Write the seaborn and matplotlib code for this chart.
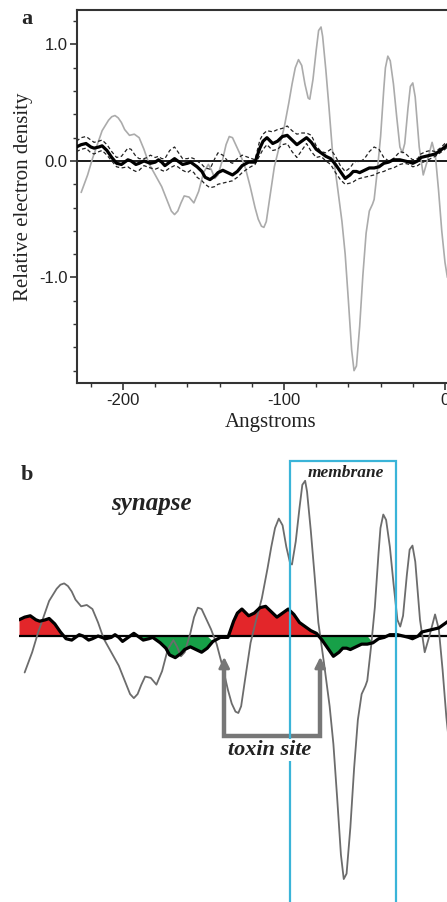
import matplotlib
matplotlib.use("Agg")
import numpy as np
import matplotlib.pyplot as plt
import seaborn as sns
from matplotlib.ticker import MultipleLocator, FixedLocator
from matplotlib.patches import Rectangle

# single scan profile (grey trace)
gray_x = [-226, -222, -219, -216, -213, -209, -207, -205, -203, -201, -199, -196,
          -193, -190, -187, -184, -180, -176, -172, -170, -168, -166, -164, -162,
          -159, -156, -153, -150, -147, -145, -143, -141, -138, -136, -134, -132,
          -130, -127, -124, -121, -118, -116, -114, -112.5, -111, -109, -106, -103,
          -100, -97, -95, -93, -91, -89, -87, -85, -84, -82, -80, -78.5, -77, -76,
          -74, -72, -70, -67, -64, -62, -60, -58, -56.5, -55, -53, -51, -49, -47,
          -45, -44, -42, -40, -38, -37, -35.5, -34, -32, -30, -28, -26.5, -25, -23,
          -21.5, -20, -18.5, -16, -13.5, -11, -8, -6, -4, -2, 0, 1.5]
gray_y = [-0.27, -0.12, 0.02, 0.14, 0.26, 0.35, 0.38, 0.39, 0.37, 0.33, 0.27, 0.22,
          0.23, 0.20, 0.10, -0.02, -0.12, -0.22, -0.36, -0.43, -0.46, -0.43, -0.36,
          -0.30, -0.31, -0.36, -0.26, -0.10, -0.03, -0.08, -0.15, -0.12, 0.02, 0.14,
          0.21, 0.20, 0.14, 0.05, -0.06, -0.22, -0.40, -0.50, -0.56, -0.57, -0.52,
          -0.33, -0.05, 0.12, 0.28, 0.50, 0.66, 0.80, 0.87, 0.82, 0.66, 0.54, 0.53,
          0.70, 0.95, 1.12, 1.15, 1.07, 0.78, 0.45, 0.10, -0.20, -0.52, -0.80, -1.20,
          -1.62, -1.80, -1.76, -1.42, -0.98, -0.62, -0.43, -0.37, -0.33, -0.08, 0.21,
          0.62, 0.80, 0.90, 0.86, 0.66, 0.38, 0.12, 0.07, 0.15, 0.45, 0.64, 0.67,
          0.55, 0.12, -0.12, 0.00, 0.16, 0.05, -0.25, -0.60, -0.87, -1.00]

# averaged profile with upper / lower error traces
mean_x = [-229, -226, -223, -220, -218, -215, -213, -210, -207, -204, -201, -197,
          -195, -192, -190, -187, -185, -183, -180, -178, -176, -174, -171, -168,
          -166, -163, -160, -158, -156, -154, -151, -149, -146, -143, -141, -138,
          -135, -132, -129, -126, -122, -118, -115, -113, -110.6, -107, -104, -101,
          -98, -95, -92, -89, -86, -83, -80, -77, -74, -71, -68, -65, -62, -59, -57,
          -55, -53, -50, -47, -44, -41, -38, -35, -32, -28, -25, -22, -20, -17, -15,
          -12, -9, -6, -3, 0, 1.5]
mean_y = [0.12, 0.14, 0.15, 0.12, 0.11, 0.12, 0.13, 0.09, 0.03, -0.02, -0.03, 0.01,
          0.00, -0.03, -0.02, 0.00, -0.01, -0.02, -0.01, 0.01, -0.01, -0.04, -0.01,
          0.02, 0.00, -0.03, -0.02, -0.01, -0.03, -0.05, -0.09, -0.14, -0.16, -0.13,
          -0.10, -0.08, -0.10, -0.12, -0.09, -0.04, -0.01, -0.01, 0.11, 0.17, 0.20,
          0.15, 0.17, 0.21, 0.22, 0.18, 0.14, 0.17, 0.20, 0.16, 0.10, 0.07, 0.04,
          0.02, -0.03, -0.09, -0.15, -0.12, -0.09, -0.09, -0.10, -0.08, -0.06, -0.06,
          -0.05, -0.02, -0.01, 0.01, 0.01, 0.00, -0.01, -0.02, 0.00, 0.03, 0.04,
          0.05, 0.06, 0.09, 0.12, 0.14]
upper_y = [0.17, 0.20, 0.21, 0.18, 0.16, 0.17, 0.18, 0.14, 0.08, 0.03, 0.04, 0.11,
           0.10, 0.04, 0.02, 0.02, 0.03, 0.05, 0.03, 0.04, 0.02, 0.02, 0.09, 0.12,
           0.08, 0.02, 0.02, 0.03, 0.02, 0.00, -0.03, -0.06, -0.07, 0.02, 0.07, 0.05,
           0.00, -0.02, 0.02, 0.05, 0.03, 0.01, 0.18, 0.23, 0.26, 0.25, 0.27, 0.28,
           0.30, 0.26, 0.23, 0.24, 0.24, 0.22, 0.13, 0.08, 0.07, 0.10, 0.04, -0.04,
           -0.09, -0.06, -0.02, 0.00, -0.01, 0.02, 0.08, 0.12, 0.10, 0.03, 0.00,
           0.02, 0.08, 0.07, 0.03, 0.01, 0.02, 0.06, 0.08, 0.09, 0.08, 0.11, 0.15, 0.16]
lower_y = [0.08, 0.10, 0.11, 0.07, 0.06, 0.08, 0.09, 0.05, 0.00, -0.05, -0.06, -0.05,
           -0.07, -0.09, -0.08, -0.04, -0.05, -0.06, -0.07, -0.06, -0.08, -0.09, -0.06,
           -0.04, -0.05, -0.08, -0.10, -0.08, -0.10, -0.14, -0.17, -0.20, -0.23, -0.22,
           -0.20, -0.19, -0.18, -0.17, -0.14, -0.10, -0.06, -0.03, 0.05, 0.10, 0.14,
           0.09, 0.10, 0.14, 0.15, 0.08, 0.03, 0.09, 0.15, 0.08, 0.03, 0.04, 0.00,
           -0.03, -0.10, -0.16, -0.20, -0.19, -0.18, -0.16, -0.15, -0.14, -0.13, -0.12,
           -0.10, -0.09, -0.07, -0.06, -0.03, -0.02, -0.03, -0.05, -0.04, -0.02, 0.00,
           0.02, 0.04, 0.07, 0.10, 0.12]

# stretches where the averaged profile is significant (coloured in panel b)
sig_spans = [(-229, -204), (-164, -127), (-118, -70), (-70, -44)]
membrane_span = (-85, -28.5)
toxin_site = (-120, -69)

x_ticks = [-200, -100, 0]
y_ticks = [-1.0, 0.0, 1.0]

sns.set_style("ticks")
plt.rcParams['font.family'] = ['Liberation Sans', 'DejaVu Sans']
plt.rcParams['axes.unicode_minus'] = False
serif = ['Liberation Serif', 'DejaVu Serif']

W, H = 447, 902
fig = plt.figure(figsize=(W / 100, H / 100), dpi=100)

mx = np.array(mean_x)
my = np.array(mean_y)

# ---- panel a ----
ax = fig.add_axes([77 / W, 1 - 383 / H, 372 / W, 373 / H])
ax.axhline(0, color='#1a1a1a', lw=1.4, zorder=1)
sns.lineplot(x=gray_x, y=gray_y, ax=ax, color='#ababab', lw=1.2, zorder=2)
sns.lineplot(x=mean_x, y=upper_y, ax=ax, color='#222222', lw=0.9, linestyle=(0, (3, 2)), zorder=3)
sns.lineplot(x=mean_x, y=lower_y, ax=ax, color='#222222', lw=0.9, linestyle=(0, (3, 2)), zorder=3)
sns.lineplot(x=mean_x, y=mean_y, ax=ax, color='black', lw=2.3, zorder=4)
ax.set_xlim(-228.6, 2.5)
ax.set_ylim(-1.906, 1.296)
ax.xaxis.set_major_locator(FixedLocator(x_ticks))
ax.set_xticklabels([f"{t:d}" for t in x_ticks])
ax.yaxis.set_major_locator(FixedLocator(y_ticks))
ax.set_yticklabels([f"{t:.1f}" for t in y_ticks])
ax.xaxis.set_minor_locator(MultipleLocator(20))
ax.yaxis.set_minor_locator(MultipleLocator(0.2))
ax.tick_params(which='major', direction='out', length=5, width=1.2, labelsize=12,
               colors='#333333', labelcolor='#222222', pad=2)
ax.tick_params(which='minor', direction='out', length=3, width=1.0, colors='#333333')
for s in ax.spines.values():
    s.set_linewidth(1.5)
    s.set_color('#333333')
ax.set_xlabel("Angstroms", family=serif, fontsize=15, color='#222222')
ax.set_ylabel("Relative electron density", family=serif, fontsize=15, color='#222222')
ax.xaxis.set_label_coords(0.52, -0.08)
ax.yaxis.set_label_coords(-0.119, 0.5)
fig.text(21 / W, 1 - 24 / H, "a", family=serif, fontsize=16, fontweight='bold', va='baseline')

# ---- panel b ----
bx = fig.add_axes([19 / W, 0, 433 / W, 462 / H])
bx.set_xlim(-229, 1)
bx.set_ylim(-1.97, 1.452)
bx.axis('off')

for lo, hi in sig_spans:
    inside = (mx >= lo) & (mx <= hi)
    bx.fill_between(mx, my, 0, where=inside & (my >= 0), interpolate=True,
                    color='#e3262a', lw=0, zorder=1)
    bx.fill_between(mx, my, 0, where=inside & (my <= 0), interpolate=True,
                    color='#17a048', lw=0, zorder=1)

bx.axhline(0, color='black', lw=1.6, zorder=2)
sns.lineplot(x=gray_x, y=gray_y, ax=bx, color='#6c6c6c', lw=1.3, zorder=3)
sns.lineplot(x=mean_x, y=mean_y, ax=bx, color='black', lw=2.3, zorder=4)

bx.add_patch(Rectangle((membrane_span[0], -2.2), membrane_span[1] - membrane_span[0], 2.2 + 1.30,
                       fill=False, edgecolor='#3ab4d8', lw=1.6, zorder=5))

# toxin site bracket
arrow_col = '#777777'
y_base, y_tip = -0.74, -0.155
bx.plot([toxin_site[0], toxin_site[0], toxin_site[1], toxin_site[1]],
        [y_tip - 0.08, y_base, y_base, y_tip - 0.08], color=arrow_col, lw=3.2,
        solid_joinstyle='miter', zorder=4.5)
for xs in toxin_site:
    bx.annotate("", xy=(xs, y_tip), xytext=(xs, y_tip - 0.12),
                arrowprops=dict(arrowstyle='-|>', color=arrow_col, lw=2,
                                mutation_scale=16, shrinkA=0, shrinkB=0), zorder=4.5)

bx.text(-95.7, -0.88, "toxin site", family=serif, fontsize=16, fontweight='bold',
        fontstyle='italic', color='#222222', ha='center', va='baseline', zorder=6,
        bbox=dict(facecolor='white', edgecolor='none', pad=1))
bx.text(-158.9, 0.93, "synapse", family=serif, fontsize=18, fontweight='bold',
        fontstyle='italic', color='#222222', ha='center', va='baseline')
bx.text(-55.4, 1.18, "membrane", family=serif, fontsize=12.5, fontweight='bold',
        fontstyle='italic', color='#222222', ha='center', va='baseline', zorder=6)
fig.text(21 / W, 1 - 480 / H, "b", family=serif, fontsize=16, fontweight='bold', va='baseline')

fig.savefig("out.png", dpi=100)
